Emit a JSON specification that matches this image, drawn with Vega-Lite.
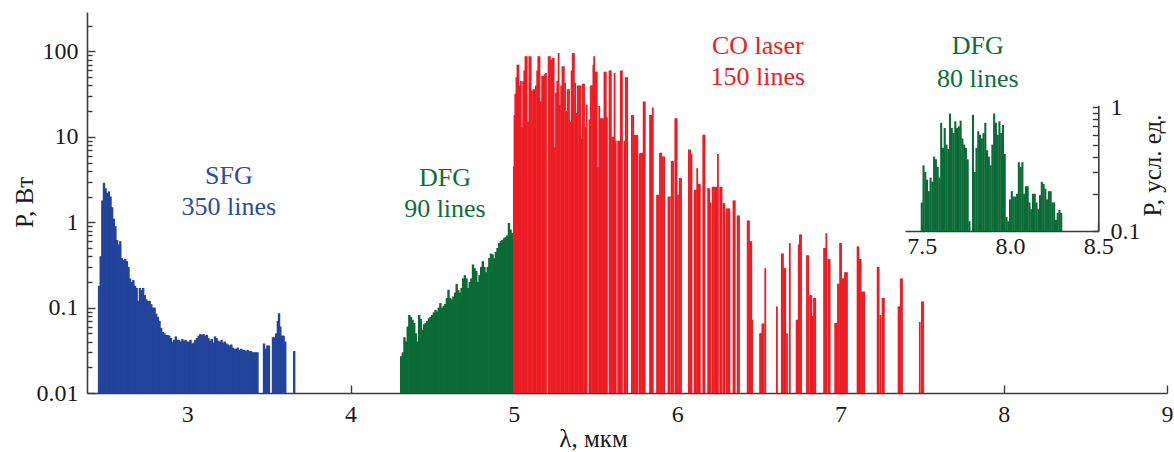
{
"$schema": "https://vega.github.io/schema/vega-lite/v6.json",
"width": 1080, "height": 381,
"autosize": "none",
"padding": {"left": 87, "top": 12, "right": 7, "bottom": 59},
"background": "white",
"config": {
  "view": {"stroke": null},
  "axis": {"grid": false, "domainColor": "#3c3c3c", "domainWidth": 1.6, "tickColor": "#3c3c3c", "tickWidth": 1.4,
    "labelFont": "Liberation Serif", "labelFontSize": 24, "labelColor": "#1a1a1a",
    "titleFont": "Liberation Serif", "titleFontSize": 25, "titleFontWeight": "normal", "titleColor": "#1a1a1a",
    "labelFlush": false, "labelOverlap": false},
  "text": {"font": "Liberation Serif"}
},
"datasets": {
  "sfg": [
    {"l":2.46,"p":0.18},{"l":2.47,"p":0.4},{"l":2.48,"p":1.8},{"l":2.49,"p":2.9},{"l":2.50,"p":2.5},{"l":2.51,"p":2.2},{"l":2.52,"p":2.3},{"l":2.53,"p":2.0},{"l":2.54,"p":1.5},{"l":2.55,"p":1.1},
    {"l":2.56,"p":0.9},{"l":2.57,"p":0.62},{"l":2.58,"p":0.55},{"l":2.59,"p":0.6},{"l":2.60,"p":0.38},{"l":2.61,"p":0.36},{"l":2.62,"p":0.37},{"l":2.63,"p":0.35},{"l":2.64,"p":0.30},{"l":2.65,"p":0.22},
    {"l":2.66,"p":0.20},{"l":2.67,"p":0.21},{"l":2.68,"p":0.18},{"l":2.69,"p":0.17},{"l":2.70,"p":0.12},{"l":2.71,"p":0.17},{"l":2.72,"p":0.16},{"l":2.73,"p":0.17},{"l":2.74,"p":0.14},{"l":2.75,"p":0.125},
    {"l":2.76,"p":0.12},{"l":2.77,"p":0.12},{"l":2.78,"p":0.11},{"l":2.79,"p":0.10},{"l":2.80,"p":0.10},{"l":2.81,"p":0.085},{"l":2.82,"p":0.078},{"l":2.83,"p":0.07},{"l":2.84,"p":0.058},{"l":2.85,"p":0.052},
    {"l":2.86,"p":0.05},{"l":2.87,"p":0.048},{"l":2.88,"p":0.048},{"l":2.89,"p":0.047},{"l":2.90,"p":0.044},{"l":2.91,"p":0.04},{"l":2.92,"p":0.042},{"l":2.93,"p":0.046},{"l":2.94,"p":0.042},{"l":2.95,"p":0.042},
    {"l":2.96,"p":0.04},{"l":2.97,"p":0.043},{"l":2.98,"p":0.041},{"l":2.99,"p":0.042},{"l":3.00,"p":0.04},{"l":3.01,"p":0.04},{"l":3.02,"p":0.042},{"l":3.03,"p":0.038},{"l":3.04,"p":0.039},{"l":3.05,"p":0.042},
    {"l":3.06,"p":0.044},{"l":3.07,"p":0.047},{"l":3.08,"p":0.049},{"l":3.09,"p":0.048},{"l":3.10,"p":0.049},{"l":3.11,"p":0.047},{"l":3.12,"p":0.048},{"l":3.13,"p":0.044},{"l":3.14,"p":0.041},{"l":3.15,"p":0.043},
    {"l":3.16,"p":0.039},{"l":3.17,"p":0.046},{"l":3.18,"p":0.044},{"l":3.19,"p":0.041},{"l":3.20,"p":0.04},{"l":3.21,"p":0.042},{"l":3.22,"p":0.039},{"l":3.23,"p":0.04},{"l":3.24,"p":0.038},{"l":3.25,"p":0.037},
    {"l":3.26,"p":0.036},{"l":3.27,"p":0.037},{"l":3.28,"p":0.034},{"l":3.29,"p":0.033},{"l":3.30,"p":0.033},{"l":3.31,"p":0.034},{"l":3.32,"p":0.032},{"l":3.33,"p":0.033},{"l":3.34,"p":0.032},{"l":3.35,"p":0.032},
    {"l":3.36,"p":0.031},{"l":3.37,"p":0.032},{"l":3.38,"p":0.031},{"l":3.39,"p":0.031},{"l":3.40,"p":0.03},{"l":3.41,"p":0.03},{"l":3.42,"p":0.03},{"l":3.43,"p":0.03},
    {"l":3.47,"p":0.038},{"l":3.48,"p":0.033},{"l":3.49,"p":0.036},{"l":3.50,"p":0.036},{"l":3.525,"p":0.045},{"l":3.535,"p":0.045},{"l":3.545,"p":0.05},{"l":3.555,"p":0.07},{"l":3.562,"p":0.086},{"l":3.57,"p":0.06},
    {"l":3.58,"p":0.047},{"l":3.59,"p":0.047},{"l":3.60,"p":0.04},{"l":3.655,"p":0.031}
  ],
  "dfg": [
    {"l":4.31,"p":0.027},{"l":4.32,"p":0.03},{"l":4.33,"p":0.045},{"l":4.34,"p":0.04},{"l":4.35,"p":0.06},{"l":4.36,"p":0.082},{"l":4.37,"p":0.078},{"l":4.38,"p":0.072},{"l":4.39,"p":0.066},{"l":4.40,"p":0.05},
    {"l":4.41,"p":0.04},{"l":4.42,"p":0.082},{"l":4.43,"p":0.074},{"l":4.44,"p":0.055},{"l":4.45,"p":0.064},{"l":4.46,"p":0.066},{"l":4.47,"p":0.07},{"l":4.48,"p":0.075},{"l":4.49,"p":0.078},{"l":4.50,"p":0.082},
    {"l":4.51,"p":0.088},{"l":4.52,"p":0.094},{"l":4.53,"p":0.09},{"l":4.54,"p":0.1},{"l":4.55,"p":0.113},{"l":4.56,"p":0.1},{"l":4.57,"p":0.105},{"l":4.58,"p":0.11},{"l":4.59,"p":0.13},{"l":4.60,"p":0.162},
    {"l":4.61,"p":0.13},{"l":4.62,"p":0.125},{"l":4.63,"p":0.135},{"l":4.64,"p":0.15},{"l":4.65,"p":0.19},{"l":4.66,"p":0.16},{"l":4.67,"p":0.15},{"l":4.68,"p":0.17},{"l":4.69,"p":0.22},{"l":4.70,"p":0.24},
    {"l":4.71,"p":0.22},{"l":4.72,"p":0.17},{"l":4.73,"p":0.2},{"l":4.74,"p":0.22},{"l":4.75,"p":0.32},{"l":4.76,"p":0.29},{"l":4.77,"p":0.27},{"l":4.78,"p":0.2},{"l":4.79,"p":0.24},{"l":4.80,"p":0.3},
    {"l":4.81,"p":0.35},{"l":4.82,"p":0.3},{"l":4.83,"p":0.26},{"l":4.84,"p":0.3},{"l":4.85,"p":0.38},{"l":4.86,"p":0.43},{"l":4.87,"p":0.42},{"l":4.88,"p":0.38},{"l":4.89,"p":0.45},{"l":4.90,"p":0.5},
    {"l":4.91,"p":0.57},{"l":4.92,"p":0.6},{"l":4.93,"p":0.62},{"l":4.94,"p":0.65},{"l":4.95,"p":0.67},{"l":4.96,"p":0.7},{"l":4.97,"p":0.98},{"l":4.98,"p":0.82},{"l":4.99,"p":0.75}
  ],
  "co": [
    {"l":5.000,"p":4.5},{"l":5.004,"p":18},{"l":5.009,"p":32},{"l":5.016,"p":50},{"l":5.022,"p":70},{"l":5.028,"p":70},{"l":5.035,"p":40},{"l":5.043,"p":45},{"l":5.050,"p":13},{"l":5.057,"p":45},
    {"l":5.064,"p":60},{"l":5.071,"p":88},{"l":5.079,"p":88},{"l":5.087,"p":15},{"l":5.095,"p":88},{"l":5.103,"p":88},{"l":5.111,"p":35},{"l":5.119,"p":36},{"l":5.127,"p":36},{"l":5.135,"p":40},
    {"l":5.143,"p":60},{"l":5.150,"p":88},{"l":5.157,"p":88},{"l":5.165,"p":26},{"l":5.173,"p":52},{"l":5.181,"p":52},{"l":5.189,"p":54},{"l":5.197,"p":56},{"l":5.213,"p":88},{"l":5.221,"p":88},
    {"l":5.229,"p":80},{"l":5.237,"p":84},{"l":5.244,"p":84},{"l":5.251,"p":7.5},{"l":5.258,"p":33},{"l":5.266,"p":45},{"l":5.274,"p":96},{"l":5.282,"p":24},{"l":5.290,"p":40},{"l":5.298,"p":67},
    {"l":5.306,"p":67},{"l":5.314,"p":43},{"l":5.322,"p":20},{"l":5.330,"p":36},{"l":5.338,"p":36},{"l":5.346,"p":15},{"l":5.354,"p":60},{"l":5.361,"p":96},{"l":5.368,"p":96},{"l":5.376,"p":43},
    {"l":5.384,"p":19},{"l":5.392,"p":40},{"l":5.400,"p":40},{"l":5.408,"p":40},{"l":5.414,"p":9.5},{"l":5.422,"p":42},{"l":5.430,"p":42},{"l":5.438,"p":13},{"l":5.446,"p":24},{"l":5.463,"p":16},
    {"l":5.471,"p":40},{"l":5.479,"p":40},{"l":5.487,"p":70},{"l":5.492,"p":88},{"l":5.500,"p":58},{"l":5.508,"p":58},{"l":5.515,"p":4.4},{"l":5.523,"p":23},{"l":5.531,"p":16.5},{"l":5.539,"p":16.5},
    {"l":5.547,"p":16.5},{"l":5.555,"p":58},{"l":5.563,"p":58},{"l":5.570,"p":17},{"l":5.586,"p":60},{"l":5.594,"p":60},{"l":5.602,"p":10},{"l":5.609,"p":10},{"l":5.617,"p":56},{"l":5.624,"p":9},
    {"l":5.639,"p":9},{"l":5.647,"p":9},{"l":5.655,"p":60},{"l":5.662,"p":60},{"l":5.678,"p":9},{"l":5.686,"p":50},{"l":5.694,"p":50},{"l":5.723,"p":18},{"l":5.731,"p":18},{"l":5.741,"p":10.5},
    {"l":5.749,"p":10.5},{"l":5.756,"p":10.5},{"l":5.770,"p":6.4},{"l":5.778,"p":6.5},{"l":5.786,"p":6.5},{"l":5.795,"p":26},{"l":5.802,"p":26},{"l":5.834,"p":18},{"l":5.842,"p":18},{"l":5.851,"p":22},
    {"l":5.877,"p":2.1},{"l":5.885,"p":2.1},{"l":5.895,"p":6.5},{"l":5.903,"p":6.5},{"l":5.913,"p":5.9},{"l":5.921,"p":5.9},{"l":5.947,"p":2},{"l":5.955,"p":2},{"l":5.967,"p":5.2},{"l":5.975,"p":5.2},
    {"l":5.989,"p":16.5},{"l":5.997,"p":16.5},{"l":6.005,"p":2.1},{"l":6.016,"p":3.3},{"l":6.024,"p":3.3},{"l":6.072,"p":7.1},{"l":6.080,"p":7.1},{"l":6.088,"p":6.3},{"l":6.108,"p":2.4},{"l":6.115,"p":2.4},
    {"l":6.123,"p":4.3},{"l":6.131,"p":2.8},{"l":6.139,"p":2.8},{"l":6.160,"p":10.6},{"l":6.168,"p":10.6},{"l":6.190,"p":2.5},{"l":6.197,"p":2.5},{"l":6.205,"p":1.7},{"l":6.218,"p":2.6},{"l":6.226,"p":2.6},
    {"l":6.234,"p":2.6},{"l":6.242,"p":2.6},{"l":6.250,"p":6.3},{"l":6.264,"p":2.6},{"l":6.272,"p":2.6},{"l":6.284,"p":1.67},{"l":6.290,"p":1.67},{"l":6.304,"p":1.45},{"l":6.312,"p":1.45},{"l":6.320,"p":1.45},
    {"l":6.345,"p":1.8},{"l":6.353,"p":1.8},{"l":6.371,"p":1.2},{"l":6.379,"p":1.2},{"l":6.432,"p":1.05},{"l":6.440,"p":1.05},{"l":6.447,"p":0.6},{"l":6.454,"p":0.6},{"l":6.460,"p":0.072},{"l":6.508,"p":0.05},
    {"l":6.514,"p":0.05},{"l":6.522,"p":0.065},{"l":6.530,"p":0.065},{"l":6.540,"p":0.29},{"l":6.611,"p":0.103},{"l":6.641,"p":0.43},{"l":6.648,"p":0.43},{"l":6.656,"p":0.29},{"l":6.662,"p":0.29},{"l":6.673,"p":0.05},
    {"l":6.690,"p":0.57},{"l":6.732,"p":0.072},{"l":6.738,"p":0.072},{"l":6.745,"p":0.55},{"l":6.752,"p":0.72},{"l":6.759,"p":0.72},{"l":6.795,"p":0.41},{"l":6.803,"p":0.41},{"l":6.815,"p":0.14},{"l":6.822,"p":0.14},
    {"l":6.830,"p":0.08},{"l":6.838,"p":0.13},{"l":6.846,"p":0.13},{"l":6.900,"p":0.5},{"l":6.908,"p":0.5},{"l":6.914,"p":0.745},{"l":6.926,"p":0.37},{"l":6.934,"p":0.37},{"l":6.968,"p":0.066},{"l":6.975,"p":0.066},
    {"l":6.985,"p":0.19},{"l":6.990,"p":0.19},{"l":6.998,"p":0.57},{"l":7.004,"p":0.57},{"l":7.014,"p":0.22},{"l":7.020,"p":0.22},{"l":7.028,"p":0.26},{"l":7.034,"p":0.26},{"l":7.040,"p":0.26},{"l":7.105,"p":0.52},
    {"l":7.110,"p":0.52},{"l":7.118,"p":0.37},{"l":7.124,"p":0.37},{"l":7.132,"p":0.154},{"l":7.140,"p":0.154},{"l":7.146,"p":0.154},{"l":7.228,"p":0.3},{"l":7.234,"p":0.3},{"l":7.245,"p":0.082},{"l":7.258,"p":0.13},
    {"l":7.266,"p":0.13},{"l":7.356,"p":0.103},{"l":7.362,"p":0.103},{"l":7.370,"p":0.22},{"l":7.377,"p":0.22},{"l":7.486,"p":0.068},{"l":7.499,"p":0.118},{"l":7.507,"p":0.118}
  ],
  "inset": [
    {"l":7.50,"p":0.17},{"l":7.51,"p":0.34},{"l":7.52,"p":0.3},{"l":7.53,"p":0.26},{"l":7.54,"p":0.21},{"l":7.55,"p":0.27},{"l":7.56,"p":0.25},{"l":7.57,"p":0.40},{"l":7.58,"p":0.38},{"l":7.59,"p":0.33},
    {"l":7.60,"p":0.27},{"l":7.61,"p":0.75},{"l":7.62,"p":0.47},{"l":7.63,"p":0.68},{"l":7.64,"p":0.5},{"l":7.65,"p":0.46},{"l":7.66,"p":0.89},{"l":7.67,"p":0.68},{"l":7.68,"p":0.62},{"l":7.69,"p":0.77},
    {"l":7.70,"p":0.68},{"l":7.71,"p":0.7},{"l":7.72,"p":0.78},{"l":7.73,"p":0.56},{"l":7.74,"p":0.5},{"l":7.75,"p":0.47},{"l":7.76,"p":0.38},{"l":7.77,"p":0.12},{"l":7.79,"p":0.87},{"l":7.80,"p":0.3},
    {"l":7.81,"p":0.47},{"l":7.82,"p":0.64},{"l":7.83,"p":0.6},{"l":7.84,"p":0.56},{"l":7.85,"p":0.62},{"l":7.86,"p":0.75},{"l":7.87,"p":0.45},{"l":7.88,"p":0.4},{"l":7.89,"p":0.34},{"l":7.90,"p":0.5},
    {"l":7.91,"p":0.89},{"l":7.92,"p":0.75},{"l":7.93,"p":0.6},{"l":7.94,"p":0.77},{"l":7.95,"p":0.62},{"l":7.96,"p":0.72},{"l":7.97,"p":0.42},{"l":7.98,"p":0.13},{"l":7.99,"p":0.12},{"l":8.00,"p":0.18},
    {"l":8.01,"p":0.21},{"l":8.02,"p":0.19},{"l":8.03,"p":0.19},{"l":8.04,"p":0.2},{"l":8.05,"p":0.36},{"l":8.06,"p":0.33},{"l":8.07,"p":0.36},{"l":8.08,"p":0.2},{"l":8.09,"p":0.23},{"l":8.10,"p":0.23},
    {"l":8.11,"p":0.17},{"l":8.12,"p":0.15},{"l":8.13,"p":0.2},{"l":8.14,"p":0.2},{"l":8.15,"p":0.17},{"l":8.16,"p":0.15},{"l":8.17,"p":0.195},{"l":8.18,"p":0.25},{"l":8.19,"p":0.24},{"l":8.20,"p":0.22},
    {"l":8.21,"p":0.18},{"l":8.22,"p":0.21},{"l":8.23,"p":0.21},{"l":8.24,"p":0.17},{"l":8.25,"p":0.17},{"l":8.26,"p":0.123},{"l":8.27,"p":0.14},{"l":8.28,"p":0.148},{"l":8.29,"p":0.14}
  ],
  "labels": [
    {"l":3.255,"p":3.5,"t":"SFG","g":"SFG"},{"l":3.255,"p":1.52,"t":"350 lines","g":"SFG"},
    {"l":4.578,"p":3.3,"t":"DFG","g":"DFG"},{"l":4.578,"p":1.44,"t":"90 lines","g":"DFG"},
    {"l":6.494,"p":117,"t":"CO laser","g":"CO"},{"l":6.494,"p":50.7,"t":"150 lines","g":"CO"},
    {"l":7.841,"p":115,"t":"DFG","g":"DFG"},{"l":7.841,"p":48,"t":"80 lines","g":"DFG"}
  ]
},
"layer": [
  {
    "layer": [
      {
        "data": {"name": "sfg"},
        "mark": {"type": "rule", "color": "#22449B", "strokeWidth": 2.4},
        "encoding": {
          "x": {"field": "l", "type": "quantitative",
                "scale": {"domain": [2.386, 9], "nice": false, "zero": false},
                "axis": {"values": [3,4,5,6,7,8,9], "format": "d", "tickSize": -8, "labelPadding": 17,
                         "labelFont": "Liberation Serif", "titleFont": "Liberation Serif", "title": "λ, мкм",
                         "titleX": 506, "titleY": 53, "titleBaseline": "alphabetic", "titleAlign": "center"}},
          "y": {"field": "p", "type": "quantitative",
                "scale": {"type": "log", "domain": [0.01, 290], "nice": false},
                "axis": {"values": [0.01,0.02,0.03,0.04,0.05,0.06,0.07,0.08,0.09,0.1,0.2,0.3,0.4,0.5,0.6,0.7,0.8,0.9,1,2,3,4,5,6,7,8,9,10,20,30,40,50,60,70,80,90,100,200],
                         "format": "~g",
                         "labelExpr": "indexof([0.01,0.1,1,10,100], datum.value) >= 0 ? datum.label : ''",
                         "tickSize": {"condition": {"test": "indexof([0.01,0.1,1,10,100], datum.value) >= 0", "value": -8}, "value": -5},
                         "labelFont": "Liberation Serif", "titleFont": "Liberation Serif",
                         "labelPadding": 17, "title": "P, Вт", "titleAngle": 270, "titleX": -55, "titleY": 190,
                         "titleBaseline": "alphabetic", "titleAlign": "center"}},
          "y2": {"datum": 0.01}
        }
      },
      {
        "data": {"name": "dfg"},
        "mark": {"type": "rule", "color": "#0B6B37", "strokeWidth": 2.4},
        "encoding": {
          "x": {"field": "l", "type": "quantitative"},
          "y": {"field": "p", "type": "quantitative"},
          "y2": {"datum": 0.01}
        }
      },
      {
        "data": {"name": "co"},
        "mark": {"type": "rule", "color": "#EC1C24", "strokeWidth": 1.8},
        "encoding": {
          "x": {"field": "l", "type": "quantitative"},
          "y": {"field": "p", "type": "quantitative"},
          "y2": {"datum": 0.01}
        }
      },
      {
        "data": {"name": "labels"},
        "mark": {"type": "text", "font": "Liberation Serif", "fontSize": 26, "align": "center", "baseline": "middle"},
        "encoding": {
          "x": {"field": "l", "type": "quantitative"},
          "y": {"field": "p", "type": "quantitative"},
          "text": {"field": "t"},
          "color": {"field": "g", "type": "nominal", "legend": null,
                    "scale": {"domain": ["SFG","DFG","CO"], "range": ["#2B4C9F","#0E6E3A","#EC1C24"]}}
        }
      }
    ]
  },
  {
    "data": {"name": "inset"},
    "mark": {"type": "rule", "color": "#0B6B37", "strokeWidth": 2.1},
    "encoding": {
      "x": {"field": "l", "type": "quantitative",
            "scale": {"domain": [7.405, 8.5], "range": [818, 1011.3], "nice": false, "zero": false},
            "axis": {"orient": "bottom", "offset": -162, "values": [7.5, 8.0, 8.5], "format": ".1f",
                     "labelFont": "Liberation Serif",
                     "tickSize": -8, "labelPadding": 11, "title": null}},
      "y": {"field": "p", "type": "quantitative",
            "scale": {"type": "log", "domain": [0.1, 1.04], "range": [219, 93.2], "nice": false},
            "axis": {"orient": "right", "offset": -68.7, "values": [0.1,0.2,0.3,0.4,0.5,0.6,0.7,0.8,0.9,1],
                     "labelExpr": "datum.value == 1 ? '1' : (datum.value == 0.1 ? '0.1' : '')",
                     "labelFont": "Liberation Serif", "titleFont": "Liberation Serif",
                     "tickSize": -6, "labelPadding": 17.7, "title": "P, усл. ед.", "titleAngle": 270,
                     "titleX": 62.4, "titleY": 153, "titleBaseline": "alphabetic", "titleAlign": "center"}},
      "y2": {"datum": 0.1}
    }
  }
],
"resolve": {"scale": {"x": "independent", "y": "independent"}}
}
